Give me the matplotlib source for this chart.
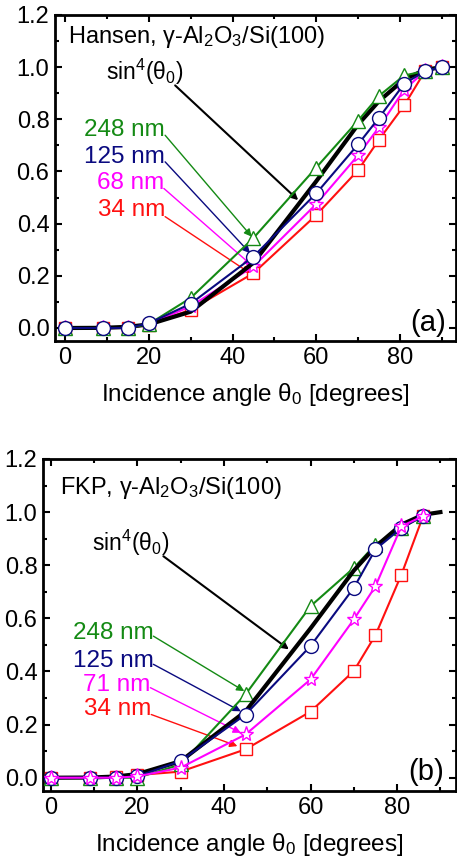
import numpy as np
import matplotlib
matplotlib.use("Agg")
import matplotlib.pyplot as plt
from matplotlib.ticker import MultipleLocator, FormatStrFormatter

plt.rcParams["font.family"] = ["Liberation Sans", "DejaVu Sans"]
plt.rcParams["mathtext.fontset"] = "custom"
plt.rcParams["mathtext.rm"] = "Liberation Sans"
plt.rcParams["mathtext.it"] = "Liberation Sans:italic"

# ── Data ──────────────────────────────────────────────────────────────────────
theta_a = [0, 9, 15, 20, 30, 45, 60, 70, 75, 81, 86, 90]
sin4_a = [0.0, 0.0006, 0.0045, 0.0137, 0.0625, 0.25, 0.5625, 0.78, 0.87, 0.953, 0.99, 1.0]
hansen_248 = [0.0, 0.0, 0.0, 0.015, 0.115, 0.345, 0.615, 0.795, 0.89, 0.968, 0.985, 1.0]
hansen_125 = [0.0, 0.0, 0.0, 0.018, 0.093, 0.274, 0.516, 0.704, 0.806, 0.936, 0.985, 1.0]
hansen_68 = [0.0, 0.0, 0.0, 0.015, 0.083, 0.236, 0.475, 0.662, 0.77, 0.913, 0.985, 1.0]
hansen_34 = [0.0, 0.0, 0.0, 0.012, 0.07, 0.21, 0.433, 0.605, 0.722, 0.853, 0.985, 1.0]

theta_b = [0, 9, 15, 20, 30, 45, 60, 70, 75, 81, 86]
theta_sin4_b = [0, 9, 15, 20, 30, 45, 60, 70, 75, 81, 86, 90]
sin4_b = [0.0, 0.0006, 0.0045, 0.0137, 0.0625, 0.25, 0.5625, 0.78, 0.87, 0.953, 0.99, 1.0]
fkp_248 = [0.0, 0.0, 0.0, 0.0, 0.05, 0.314, 0.646, 0.79, 0.878, 0.94, 0.985]
fkp_125 = [0.0, 0.0, 0.0, 0.005, 0.063, 0.238, 0.496, 0.715, 0.86, 0.94, 0.985]
fkp_71 = [0.0, 0.0, 0.0, 0.005, 0.038, 0.163, 0.37, 0.596, 0.721, 0.947, 0.985]
fkp_34 = [0.0, 0.0, 0.003, 0.01, 0.023, 0.107, 0.249, 0.402, 0.537, 0.765, 0.985]

GREEN = "#148a14"
NAVY = "#0a0a80"
MAGENTA = "#ff00ff"
RED = "#ff1010"

MK = dict(markerfacecolor="white", markeredgewidth=1.0)


def style_axes(ax, xlim):
    ax.set_xlim(*xlim)
    ax.set_ylim(-0.05, 1.2)
    ax.xaxis.set_major_locator(MultipleLocator(20))
    ax.xaxis.set_minor_locator(MultipleLocator(10))
    ax.yaxis.set_major_locator(MultipleLocator(0.2))
    ax.yaxis.set_minor_locator(MultipleLocator(0.1))
    ax.yaxis.set_major_formatter(FormatStrFormatter("%.1f"))
    ax.tick_params(which="both", direction="in", top=True, right=True,
                   labelsize=17, width=1.5)
    ax.tick_params(which="major", length=5, pad=4)
    ax.tick_params(which="minor", length=3)
    for sp in ax.spines.values():
        sp.set_linewidth(2.0)
    ax.set_xlabel(r"Incidence angle θ$_0$ [degrees]", fontsize=17.5, labelpad=9)


def arrow(ax, start, end, color, lw=1.0):
    ax.annotate("", xy=end, xytext=start,
                arrowprops=dict(arrowstyle="-|>", color=color, lw=lw,
                                mutation_scale=11, shrinkA=0, shrinkB=0))


fig = plt.figure(figsize=(4.57, 8.61), dpi=100)

# ── (a) Hansen ────────────────────────────────────────────────────────────────
ax = fig.add_axes([0.1204, 0.6039, 0.8775, 0.3787])
ax.plot(theta_a, hansen_34, "-s", color=RED, lw=1.5, ms=8, mec=RED, zorder=3, **MK)
ax.plot(theta_a, hansen_68, "-*", color=MAGENTA, lw=1.5, ms=11, mec=MAGENTA, zorder=4, **MK)
ax.plot(theta_a, sin4_a, "-", color="black", lw=3, zorder=5)
ax.plot(theta_a, hansen_248, "-^", color=GREEN, lw=1.5, ms=10, mec=GREEN, zorder=6, **MK)
ax.plot(theta_a, hansen_125, "-o", color=NAVY, lw=1.5, ms=10, mec=NAVY, zorder=7, **MK)
style_axes(ax, (-2.4, 93.4))

ax.text(0.8, 1.115, r"Hansen, γ-Al$_2$O$_3$/Si(100)", fontsize=17, va="center")
ax.text(9.8, 0.98, r"sin$^4$(θ$_0$)", fontsize=16.5, va="center")
arrow(ax, (26.3, 0.93), (55.7, 0.49), "black", lw=1.5)

ax.text(23.9, 0.758, "248 nm", color=GREEN, fontsize=17.5, ha="right", va="center")
ax.text(23.9, 0.656, "125 nm", color=NAVY, fontsize=17.5, ha="right", va="center")
ax.text(23.6, 0.554, "68 nm", color=MAGENTA, fontsize=17.5, ha="right", va="center")
ax.text(23.9, 0.452, "34 nm", color=RED, fontsize=17.5, ha="right", va="center")
arrow(ax, (23.9, 0.739), (44.6, 0.35), GREEN)
arrow(ax, (23.9, 0.637), (44.2, 0.287), NAVY)
arrow(ax, (23.6, 0.535), (44.6, 0.24), MAGENTA)
arrow(ax, (23.9, 0.427), (44.2, 0.21), RED)
ax.text(82.5, 0.02, "(a)", fontsize=21, va="center")

# ── (b) FKP ───────────────────────────────────────────────────────────────────
bx = fig.add_axes([0.0941, 0.0813, 0.9037, 0.3856])
bx.plot(theta_b, fkp_34, "-s", color=RED, lw=1.5, ms=8, mec=RED, zorder=3, **MK)
bx.plot(theta_b, fkp_248, "-^", color=GREEN, lw=1.5, ms=10, mec=GREEN, zorder=4, **MK)
bx.plot(theta_sin4_b, sin4_b, "-", color="black", lw=3, zorder=5)
bx.plot(theta_b, fkp_125, "-o", color=NAVY, lw=1.5, ms=10, mec=NAVY, zorder=6, **MK)
bx.plot(theta_b, fkp_71, "-*", color=MAGENTA, lw=1.5, ms=11, mec=MAGENTA, zorder=7, **MK)
style_axes(bx, (-1.8, 93.6))

bx.text(2.2, 1.09, r"FKP, γ-Al$_2$O$_3$/Si(100)", fontsize=17, va="center")
bx.text(9.5, 0.885, r"sin$^4$(θ$_0$)", fontsize=16.5, va="center")
arrow(bx, (26.0, 0.834), (55.0, 0.483), "black", lw=1.5)

bx.text(23.7, 0.546, "248 nm", color=GREEN, fontsize=17.5, ha="right", va="center")
bx.text(23.7, 0.44, "125 nm", color=NAVY, fontsize=17.5, ha="right", va="center")
bx.text(23.0, 0.35, "71 nm", color=MAGENTA, fontsize=17.5, ha="right", va="center")
bx.text(23.2, 0.257, "34 nm", color=RED, fontsize=17.5, ha="right", va="center")
arrow(bx, (23.7, 0.533), (44.7, 0.326), GREEN)
arrow(bx, (23.7, 0.427), (43.9, 0.25), NAVY)
arrow(bx, (23.0, 0.339), (43.9, 0.169), MAGENTA)
arrow(bx, (23.2, 0.238), (43.1, 0.119), RED)
bx.text(82.5, 0.02, "(b)", fontsize=21, va="center")

fig.savefig("out.png", dpi=100)
